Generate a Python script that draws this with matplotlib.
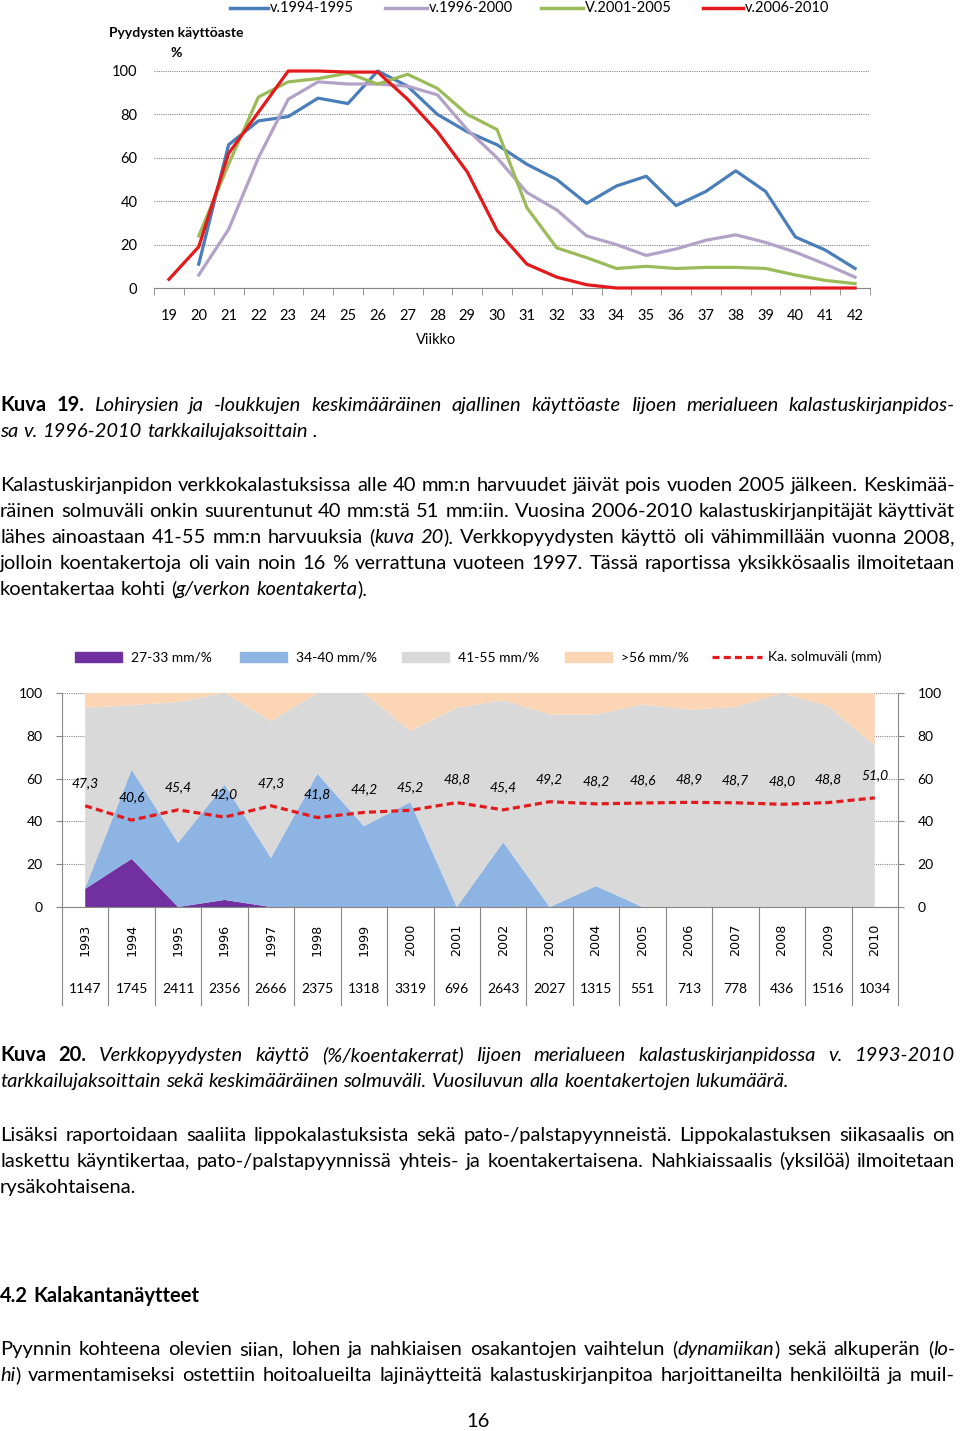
import numpy as np
import matplotlib
matplotlib.use('Agg')
import matplotlib.pyplot as plt
from matplotlib.lines import Line2D
from matplotlib.patches import Rectangle

plt.rcParams['font.family'] = ['Lato', 'DejaVu Sans']

W, H = 960, 1431

# Kuva 19: gear usage by week
weeks = list(range(19, 43))
use_1994_1995 = [np.nan, 11, 66, 77, 79, 87.5, 85, 100, 93, 80, 72, 66, 57, 50,
                 39, 47, 51.5, 38, 44.5, 54, 44.5, 23.5, 17.5, 9]
use_1996_2000 = [np.nan, 6, 27, 60, 87, 95, 94, 94, 93, 89, 73, 60, 44, 36,
                 24, 20, 15, 18, 22, 24.5, 21, 16.5, 11, 5]
use_2001_2005 = [np.nan, 24, 57, 88, 95, 96.5, 99, 94, 98.5, 92, 80, 73, 37,
                 18.5, 14, 9, 10, 9, 9.5, 9.5, 9, 6, 3.5, 2]
use_2006_2010 = [4, 19, 62, 81, 100, 100, 99.5, 99.5, 87, 72, 53.5, 26.5, 11,
                 5, 1.5, 0, 0, 0, 0, 0, 0, 0, 0, 0]
period_names = ['v.1994-1995', 'v.1996-2000', 'V.2001-2005', 'v.2006-2010']
period_colors = ['#4A7EBB', '#B3A2C7', '#9BBB59', '#E3191C']

# Kuva 20: net mesh sizes by year
years = list(range(1993, 2011))
mesh_27_33 = [8.5, 22.5, 0, 3.3, 0, 0, 0, 0, 0, 0, 0, 0, 0, 0, 0, 0, 0, 0]
mesh_34_40 = [0.5, 41.7, 30, 53.9, 23, 62.3, 37.8, 49, 0, 30.3, 0, 9.8,
              0, 0, 0, 0, 0, 0]
mesh_41_55 = [84.1, 30.1, 65.8, 42.8, 63.9, 37.7, 62.2, 33.3, 93.1, 66.3,
              90, 80.2, 94.6, 92.3, 93.4, 100, 93.8, 75.4]
mesh_56 = [6.9, 5.7, 4.2, 0, 13.1, 0, 0, 17.7, 6.9, 3.4, 10, 10, 5.4, 7.7,
           6.6, 0, 6.2, 24.6]
mean_mesh = [47.3, 40.6, 45.4, 42.0, 47.3, 41.8, 44.2, 45.2, 48.8, 45.4,
             49.2, 48.2, 48.6, 48.9, 48.7, 48.0, 48.8, 51.0]
counts = [1147, 1745, 2411, 2356, 2666, 2375, 1318, 3319, 696, 2643, 2027,
          1315, 551, 713, 778, 436, 1516, 1034]
mesh_names = ['27-33 mm/%', '34-40 mm/%', '41-55 mm/%', '>56 mm/%',
              'Ka. solmuväli (mm)']
mesh_colors = ['#7030A0', '#8DB4E2', '#D9D9D9', '#FCD5B4', '#E3191C']

GRAY = '#868686'


def fx(px):
    return px / W


def fy(py):
    return 1 - py / H


fig = plt.figure(figsize=(9.6, 14.31), dpi=100)

# ---- top chart ----
ax1 = fig.add_axes([fx(154), fy(288), (870 - 154) / W, (288 - 71) / H])
for name, vals, col in zip(period_names,
                           [use_1994_1995, use_1996_2000, use_2001_2005, use_2006_2010],
                           period_colors):
    ax1.plot(weeks, np.array(vals, dtype=float), color=col, lw=2.3,
             clip_on=False, zorder=3)
ax1.set_xlim(18.5, 42.5)
ax1.set_ylim(0, 100)
ax1.set_yticks(range(0, 101, 20))
ax1.set_xticks(weeks)
ax1.set_xticks(np.arange(18.5, 43, 1), minor=True)
ax1.tick_params(axis='y', length=0, pad=12, labelsize=10.5)
ax1.tick_params(axis='x', which='major', length=0, pad=15, labelsize=10.5)
ax1.tick_params(axis='x', which='minor', length=5, color=GRAY, direction='out')
for s in ['top', 'left', 'right']:
    ax1.spines[s].set_visible(False)
ax1.spines['bottom'].set_color(GRAY)
ax1.yaxis.grid(True, linestyle=(0, (1, 1)), color=GRAY, lw=0.8)
ax1.set_axisbelow(True)
ax1.set_facecolor('none')
fig.text(fx(436), fy(340), 'Viikko', ha='center', va='center', fontsize=10.5)
fig.text(fx(176), fy(33), 'Pyydysten käyttöaste', ha='center', va='center',
         fontsize=10, weight='bold')
fig.text(fx(176), fy(53), '%', ha='center', va='center', fontsize=10, weight='bold')

# top legend
for (x0, x1), name, col in zip([(230, 268), (385, 427), (541, 583), (703, 743)],
                               period_names, period_colors):
    fig.add_artist(Line2D([fx(x0), fx(x1)], [fy(8), fy(8)], color=col, lw=2.5,
                          transform=fig.transFigure))
    fig.text(fx(x1 + 2), fy(8), name, ha='left', va='center', fontsize=10.5)

# ---- bottom chart ----
ax2 = fig.add_axes([fx(62), fy(907), (898 - 62) / W, (907 - 693) / H])
xi = np.arange(len(years))
ax2.stackplot(xi, mesh_27_33, mesh_34_40, mesh_41_55, mesh_56,
              colors=mesh_colors[:4], zorder=2, lw=0)
ax2.plot(xi, mean_mesh, color=mesh_colors[4], lw=2.3,
         linestyle=(0, (2.2, 1.3)), zorder=3)
for i, v in enumerate(mean_mesh):
    ax2.annotate(f'{v:.1f}'.replace('.', ','), (i, v), xytext=(0, 16.5),
                 textcoords='offset points', ha='center', va='center',
                 style='italic', fontsize=10)
ax2.set_xlim(-0.5, len(years) - 0.5)
ax2.set_ylim(0, 100)
ax2.set_yticks(range(0, 101, 20))
ax2.set_xticks([])
ax2.tick_params(axis='y', length=4, color=GRAY, direction='out', pad=10,
                labelsize=10, right=True, labelright=True)
ax2.spines['top'].set_visible(False)
for s in ['left', 'right', 'bottom']:
    ax2.spines[s].set_color(GRAY)
ax2.yaxis.grid(True, linestyle=(0, (1, 1)), color=GRAY, lw=0.8)
ax2.set_axisbelow(True)
xt = ax2.get_xaxis_transform()
for b in np.arange(-0.5, len(years), 1):
    ax2.axvline(b, ymin=-0.458, ymax=0, color=GRAY, lw=0.8, clip_on=False)
for i, (yr, c) in enumerate(zip(years, counts)):
    ax2.text(i, -0.154, str(yr), transform=xt, rotation=90, ha='center',
             va='center', fontsize=9.2, family='DejaVu Sans')
    ax2.text(i, -0.383, str(c), transform=xt, ha='center', va='center',
             fontsize=10)

# bottom legend
for k, (x0, name, col) in enumerate(zip([75, 240, 402, 565, 712], mesh_names,
                                        mesh_colors)):
    if k < 4:
        fig.add_artist(Rectangle((fx(x0), fy(662)), 47 / W, 10 / H, color=col,
                                 transform=fig.transFigure))
    else:
        fig.add_artist(Line2D([fx(x0), fx(x0 + 50)], [fy(657), fy(657)],
                              color=col, lw=2.3, linestyle=(0, (2.2, 1.3)),
                              transform=fig.transFigure))
    fig.text(fx(x0 + 56), fy(657), name, ha='left', va='center', fontsize=10)

# ---- page text ----
body_lines = [
    (405, [('Kuva 19.', 'b'), (' Lohirysien ja -loukkujen keskimääräinen ajallinen käyttöaste  Iijoen merialueen kalastuskirjanpidos-', 'i')], True),
    (431, [('sa v. 1996-2010 tarkkailujaksoittain .', 'i')], False),
    (485, [('Kalastuskirjanpidon verkkokalastuksissa alle 40 mm:n harvuudet jäivät pois vuoden 2005 jälkeen.  Keskimää-', 'n')], True),
    (511, [('räinen solmuväli onkin suurentunut 40 mm:stä 51 mm:iin. Vuosina 2006-2010 kalastuskirjanpitäjät käyttivät', 'n')], True),
    (537, [('lähes ainoastaan 41-55 mm:n harvuuksia (', 'n'), ('kuva 20', 'i'), ('). Verkkopyydysten käyttö oli vähimmillään vuonna 2008,', 'n')], True),
    (563, [('jolloin koentakertoja oli vain noin 16 % verrattuna vuoteen 1997. Tässä raportissa yksikkösaalis ilmoitetaan', 'n')], True),
    (589, [('koentakertaa kohti (', 'n'), ('g/verkon koentakerta', 'i'), (').', 'n')], False),
    (1055, [('Kuva 20.', 'b'), (' Verkkopyydysten käyttö (%/koentakerrat) Iijoen merialueen kalastuskirjanpidossa v. 1993-2010', 'i')], True),
    (1081, [('tarkkailujaksoittain sekä keskimääräinen solmuväli. Vuosiluvun alla koentakertojen lukumäärä.', 'i')], False),
    (1135, [('Lisäksi raportoidaan saaliita lippokalastuksista sekä pato-/palstapyynneistä.  Lippokalastuksen siikasaalis on', 'n')], True),
    (1161, [('laskettu käyntikertaa, pato-/palstapyynnissä yhteis- ja koentakertaisena. Nahkiaissaalis (yksilöä) ilmoitetaan', 'n')], True),
    (1187, [('rysäkohtaisena.', 'n')], False),
    (1296, [('4.2  Kalakantanäytteet', 'b')], False),
    (1349, [('Pyynnin kohteena olevien siian, lohen ja nahkiaisen  osakantojen vaihtelun (', 'n'), ('dynamiikan', 'i'), (')  sekä alkuperän (', 'n'), ('lo-', 'i')], True),
    (1375, [('hi', 'i'), (') varmentamiseksi ostettiin hoitoalueilta lajinäytteitä kalastuskirjanpitoa harjoittaneilta henkilöiltä ja muil-', 'n')], True),
]

renderer = fig.canvas.get_renderer()


def style_kw(st):
    if st == 'b':
        return {'weight': 'bold'}
    if st == 'i':
        return {'style': 'italic'}
    return {}


def to_words(segs):
    words, cur = [], []
    for text, st in segs:
        parts = text.split(' ')
        for k, p in enumerate(parts):
            if k > 0 and cur:
                words.append(cur)
                cur = []
            if p:
                cur.append((p, st))
    if cur:
        words.append(cur)
    return words


def measure(s, size, st):
    t = fig.text(0, 0, s, fontsize=size, **style_kw(st))
    w = t.get_window_extent(renderer).width
    t.remove()
    return w


def natural_width(segs, size):
    words = to_words(segs)
    sp = measure('x x', size, 'n') - measure('xx', size, 'n')
    return sum(measure(p, size, st) for wd in words for p, st in wd) + sp * (len(words) - 1)


ref = 12.0
size = ref * min(955 / natural_width(segs, ref) for y, segs, j in body_lines if j)
size = min(size, 14.5)


def draw_line(y, segs, justify, x0=0, x1=955):
    words = to_words(segs)
    widths = [[measure(p, size, st) for p, st in wd] for wd in words]
    sp = measure('x x', size, 'n') - measure('xx', size, 'n')
    total = sum(sum(w) for w in widths)
    gap = (x1 - x0 - total) / (len(words) - 1) if justify and len(words) > 1 else sp
    x = x0
    for wd, ws in zip(words, widths):
        for (p, st), w in zip(wd, ws):
            fig.text(fx(x), fy(y + 6), p, fontsize=size, ha='left',
                     va='baseline', **style_kw(st))
            x += w
        x += gap


for y, segs, j in body_lines:
    draw_line(y, segs, j)

fig.text(fx(478), fy(1421 + 6), '16', ha='center', va='baseline', fontsize=size)

fig.savefig('out.png', dpi=100)
